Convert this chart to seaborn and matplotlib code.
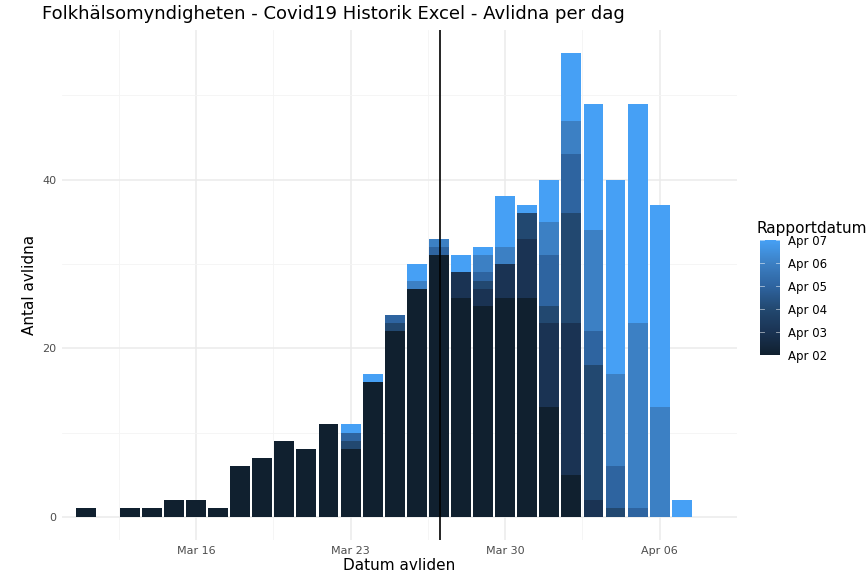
import matplotlib
matplotlib.use("Agg")
import matplotlib.pyplot as plt
import seaborn as sns
import pandas as pd
import numpy as np
from matplotlib.colors import LinearSegmentedColormap, Normalize
from matplotlib.cm import ScalarMappable

dates = ["Mar 11","Mar 12","Mar 13","Mar 14","Mar 15","Mar 16","Mar 17","Mar 18","Mar 19","Mar 20",
         "Mar 21","Mar 22","Mar 23","Mar 24","Mar 25","Mar 26","Mar 27","Mar 28","Mar 29","Mar 30",
         "Mar 31","Apr 01","Apr 02","Apr 03","Apr 04","Apr 05","Apr 06","Apr 07"]
reports = ["Apr 02","Apr 03","Apr 04","Apr 05","Apr 06","Apr 07"]
apr02 = [1,0,1,1,2,2,1,6,7,9,8,11,8,16,22,27,31,26,25,26,26,13,5,0,0,0,0,0]
apr03 = [1,0,1,1,2,2,1,6,7,9,8,11,8,16,22,27,31,29,27,30,33,23,23,2,0,0,0,0]
apr04 = [1,0,1,1,2,2,1,6,7,9,8,11,9,16,23,27,31,29,28,30,36,25,36,18,1,0,0,0]
apr05 = [1,0,1,1,2,2,1,6,7,9,8,11,10,16,24,27,32,29,29,30,36,31,43,22,6,1,0,0]
apr06 = [1,0,1,1,2,2,1,6,7,9,8,11,10,16,24,28,33,29,31,32,36,35,47,34,17,23,13,0]
apr07 = [1,0,1,1,2,2,1,6,7,9,8,11,11,17,24,30,33,31,32,38,37,40,55,49,40,49,37,2]
series = [apr02, apr03, apr04, apr05, apr06, apr07]
colors = ["#10202F", "#1A3353", "#224870", "#2E64A0", "#3C80C4", "#46A0F5"]
tick_labels = ["Mar 16", "Mar 23", "Mar 30", "Apr 06"]
marker_date = "Mar 27"

fig = plt.figure(figsize=(8.66, 5.86), dpi=100)
ax = fig.add_axes([62/866, 46/586, 675/866, 510/586])
for rep, vals, c in reversed(list(zip(reports, series, colors))):
    df = pd.DataFrame({"date": dates, "n": vals})
    sns.barplot(data=df, x="date", y="n", order=dates, color=c, saturation=1,
                width=0.9, ax=ax, errorbar=None, zorder=3)
ax.set_xlim(-1.07, 29.06)
ax.set_ylim(-2.75, 57.75)
ax.set_xticks([dates.index(t) for t in tick_labels])
ax.set_xticklabels(tick_labels)
ax.set_xticks([dates.index(t) - 3.5 for t in tick_labels] + [dates.index("Apr 06") + 3.5], minor=True)
ax.set_yticks([0, 20, 40])
ax.set_yticks([10, 30, 50], minor=True)
ax.grid(which="major", color="#EBEBEB", lw=1.1, zorder=0)
ax.grid(which="minor", color="#F4F4F4", lw=0.6, zorder=0)
ax.set_axisbelow(True)
for s in ax.spines.values():
    s.set_visible(False)
ax.tick_params(which="both", length=0, labelsize=8, colors="#4D4D4D", pad=4)
ax.axvline(dates.index(marker_date) + 0.07, color="black", lw=1.2, zorder=5)
ax.set_xlabel("Datum avliden", fontsize=11, labelpad=2)
ax.set_ylabel("Antal avlidna", fontsize=11)
fig.text(42/866, 1 - 14/586, "Folkhälsomyndigheten - Covid19 Historik Excel - Avlidna per dag",
         fontsize=13, va="center")

cmap = LinearSegmentedColormap.from_list("r", colors)
cax = fig.add_axes([760/866, 1 - 355/586, 20/866, 115/586])
cb = fig.colorbar(ScalarMappable(norm=Normalize(0, 5), cmap=cmap), cax=cax)
cb.set_ticks(range(6))
cb.set_ticklabels(reports)
cb.outline.set_visible(False)
cax.tick_params(length=0, labelsize=8.5, pad=6)
for i in range(6):
    cax.plot([0, 0.2], [i, i], color="white", lw=0.6, alpha=0.6)
    cax.plot([0.8, 1], [i, i], color="white", lw=0.6, alpha=0.6)
fig.text(757/866, 1 - 229/586, "Rapportdatum", fontsize=11, va="center")
fig.savefig("out.png", dpi=100)
